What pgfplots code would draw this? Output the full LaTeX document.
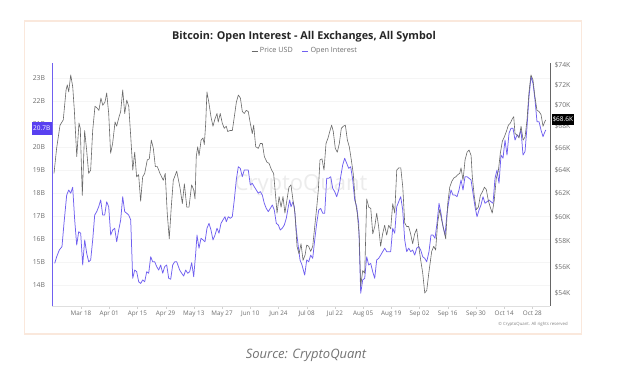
\documentclass[border=0pt]{standalone}
\usepackage{fontspec}
\setmainfont{Open Sans}
\usepackage{pgfplots}
\usepackage{pgfplotstable}
\pgfplotsset{compat=1.18}
\definecolor{oicol}{RGB}{112,96,240}
\definecolor{pricecol}{RGB}{105,105,105}
\definecolor{boxblue}{RGB}{88,64,240}
\definecolor{cardline}{RGB}{250,232,220}
\definecolor{ticktxt}{RGB}{110,110,110}

\pgfplotstableread{
d p
-13.4 63.7
-12.1 65.95
-10.4 68.1
-8.8 68.6
-7.4 71.5
-6.8 72.0
-6.1 71.3
-5.1 73.0
-4.1 71.8
-3.3 69.5
-2.1 65.2
-1.0 68.3
-0.35 67.8
0.65 61.8
1.8 67.6
2.8 65.8
3.8 63.7
4.8 64.0
5.8 67.6
6.95 69.9
8.1 69.7
8.9 69.5
9.9 70.7
10.8 70.0
11.9 70.3
12.75 71.2
13.75 69.2
14.7 65.5
15.7 66.4
16.9 68.4
17.7 68.0
18.9 68.9
19.7 69.4
20.7 71.5
21.7 69.2
22.7 70.5
23.7 69.9
24.7 67.0
25.7 64.0
26.65 65.6
27.6 63.4
28.6 63.6
29.6 61.3
30.6 63.4
31.6 63.7
32.9 64.9
33.9 65.0
34.9 66.7
35.9 65.95
36.9 64.3
37.9 64.3
39.2 63.7
40.85 63.1
41.8 63.7
42.8 60.3
43.8 58.2
44.8 60.8
45.8 63.1
47.5 63.9
49.1 62.5
50.3 61.1
51.3 62.8
52.5 60.8
53.6 60.8
54.9 62.7
55.9 62.3
56.6 61.5
57.2 65.2
57.9 66.1
58.6 65.3
59.6 66.7
60.55 66.9
61.2 66.3
61.9 68.3
62.5 71.3
63.5 70.2
64.5 68.9
65.5 68.0
66.5 68.7
67.5 69.2
68.1 68.4
69.1 69.2
70.1 68.3
71.1 67.8
72.1 68.0
72.8 67.5
74.0 67.6
75.1 67.6
76.1 68.9
77.1 70.3
78.1 71.0
79.1 70.7
80.05 69.4
81.0 69.2
82.0 69.5
83.0 69.4
84.0 68.3
85.0 67.3
85.7 68.1
86.7 66.1
88.0 65.95
89.0 66.4
90.0 66.4
91.0 65.2
92.3 64.7
93.3 64.6
94.6 64.0
95.6 63.7
96.6 61.7
97.3 60.3
98.3 61.7
99.3 60.8
100.25 61.7
101.2 60.3
102.2 61.4
103.2 62.5
104.2 62.7
105.2 61.4
106.2 60.3
107.2 57.6
108.2 57.0
109.2 57.8
110.2 56.5
111.2 56.9
112.0 57.7
113.0 57.6
114.0 57.2
115.0 57.6
116.0 59.2
117.0 60.8
117.8 62.3
118.6 64.9
119.6 65.0
120.6 64.0
121.6 66.4
122.6 66.9
123.6 67.6
124.4 68.1
125.2 67.5
126.2 65.95
127.2 65.6
128.2 66.4
129.2 67.8
130.2 68.0
131.2 68.1
132.2 66.7
133.15 66.1
134.15 64.9
135.1 63.7
136.1 61.4
137.1 60.3
138.1 58.4
138.8 54.5
139.8 55.7
140.8 55.5
141.8 61.5
142.8 60.8
143.8 60.7
144.8 58.6
145.8 59.2
146.75 60.3
147.7 59.2
148.7 57.6
149.7 58.6
150.7 59.3
151.7 58.5
152.7 59.3
153.7 59.0
154.7 61.1
155.7 60.3
156.7 64.0
157.7 64.2
158.7 64.2
159.7 62.5
160.65 59.5
161.6 59.2
162.6 59.2
163.6 58.6
164.6 57.8
165.6 58.6
166.6 59.0
167.6 57.6
168.6 56.5
169.6 55.5
170.6 54.0
171.6 54.2
172.6 55.5
174.05 57.2
175.05 57.6
176.0 57.3
177.0 59.5
178.0 60.6
179.0 59.7
180.0 59.0
181.0 58.2
182.0 61.1
183.0 62.5
184.0 63.0
185.0 63.3
186.0 63.4
187.0 63.6
187.95 63.7
188.6 64.2
189.6 63.1
190.6 64.9
191.6 65.6
192.6 65.8
193.6 65.3
194.2 63.4
195.2 61.7
196.2 60.6
197.2 60.8
198.2 61.8
199.2 62.1
200.2 62.5
201.15 62.3
202.1 61.4
203.1 60.8
204.1 60.3
205.1 61.4
206.1 63.3
207.1 63.9
208.1 65.5
209.1 66.6
210.1 67.0
211.1 67.5
212.1 68.1
213.1 68.3
214.05 68.7
214.75 68.9
215.4 67.3
216.4 67.2
217.4 66.9
218.4 68.0
219.4 66.7
220.4 67.0
221.35 68.6
222.3 71.2
223.3 73.0
224.3 72.5
225.3 70.8
226.3 69.5
227.3 69.4
228.3 69.1
229.3 68.0
229.9 68.3
230.6 68.6
}\pricetable

\pgfplotstableread{
d oi
-13.05 14.94
-12.06 15.23
-10.77 15.52
-9.43 15.67
-8.44 16.68
-7.1 17.91
-6.1 18.13
-5.11 17.99
-4.12 18.25
-3.13 16.83
-2.13 15.74
-1.14 16.32
-0.15 16.25
0.84 14.87
1.84 15.96
2.83 15.38
3.82 15.01
4.81 15.09
5.81 15.96
6.8 17.04
7.79 17.19
8.78 17.40
9.78 17.70
10.77 17.04
11.76 17.04
12.75 17.62
13.75 17.40
14.74 16.17
15.73 16.39
16.72 16.47
17.72 15.88
18.71 16.39
19.7 16.83
20.7 17.84
21.69 17.19
22.68 17.12
23.67 17.04
24.67 16.83
25.66 14.29
26.65 14.65
27.64 14.58
28.64 14.14
29.63 14.07
30.62 14.22
31.61 14.14
32.61 14.58
33.6 14.51
34.59 15.23
35.58 15.01
36.58 15.01
37.57 14.80
38.56 14.65
39.55 14.87
40.55 14.51
41.54 14.80
42.53 14.87
43.53 14.29
44.52 14.25
45.51 14.87
46.5 15.01
47.5 15.01
48.98 14.65
49.98 14.51
50.97 14.39
51.96 14.65
52.96 14.51
53.95 14.58
54.94 14.97
55.93 14.36
56.93 15.38
57.57 16.17
58.56 15.60
59.56 16.03
60.55 15.96
61.54 15.88
62.53 16.47
63.53 16.68
64.52 16.39
65.51 15.96
66.5 16.17
67.5 16.47
68.49 16.25
69.48 16.68
70.47 16.83
71.47 16.97
72.11 16.75
73.1 16.97
74.1 16.90
75.09 16.97
76.08 17.70
77.07 18.57
78.07 19.14
79.06 19.07
80.05 18.71
81.04 19.0
82.04 19.0
83.03 19.0
84.02 18.35
85.01 18.42
86.01 18.27
87.0 18.13
87.99 17.99
88.98 18.06
89.98 17.91
90.97 17.55
91.96 17.33
92.96 17.19
93.95 17.33
94.94 17.48
95.93 17.26
96.93 16.68
97.92 16.61
98.91 16.39
99.9 16.47
100.9 16.61
101.89 16.90
102.88 17.40
103.58 17.70
104.22 17.40
105.22 17.62
105.86 17.40
106.85 16.39
107.85 15.67
108.69 15.09
109.68 14.87
111.02 14.43
112.02 15.09
113.01 15.01
114.0 15.30
115.0 15.16
115.99 15.96
116.98 16.68
117.97 17.26
118.96 17.33
119.96 17.12
120.95 17.12
121.94 18.64
122.93 18.64
123.93 18.71
124.92 18.20
125.91 18.06
126.9 17.84
127.9 18.13
128.89 18.71
129.88 19.22
130.87 19.51
131.87 19.29
132.86 19.07
133.85 19.14
134.85 18.57
135.84 17.70
136.83 17.40
137.82 16.68
138.81 13.64
139.8 14.22
140.8 14.29
141.79 15.23
142.78 14.87
143.77 14.94
144.77 14.58
145.76 14.29
146.75 15.09
147.74 15.16
148.74 15.30
149.73 15.45
150.72 15.60
151.72 15.45
152.71 15.45
153.7 15.45
154.69 16.47
155.69 16.25
156.68 17.40
157.67 17.62
158.67 17.84
159.66 17.26
160.65 15.96
161.64 15.45
162.64 15.60
163.63 15.45
164.62 15.52
165.62 15.30
166.61 15.60
167.6 15.67
168.59 15.52
169.59 15.23
170.58 15.16
171.57 15.01
172.71 15.45
173.7 16.17
174.7 16.17
175.69 16.03
176.68 16.68
177.68 17.55
178.67 17.12
179.66 16.53
180.65 16.17
181.65 17.12
182.64 17.70
183.63 18.13
184.62 17.91
185.62 17.91
186.61 17.84
187.6 18.13
188.6 18.57
189.59 18.13
190.58 18.71
191.57 18.71
192.56 18.64
193.56 18.57
194.55 17.99
195.54 17.40
196.54 16.97
197.53 17.26
198.52 17.48
199.51 17.84
200.51 17.55
201.5 17.62
202.49 17.70
203.48 17.62
204.48 17.55
205.47 18.64
206.46 19.0
207.45 18.42
208.45 19.65
209.44 19.51
210.43 20.30
211.42 19.65
212.42 20.60
213.41 20.81
214.4 20.81
215.4 20.30
216.39 20.52
217.38 20.45
218.37 20.74
219.36 19.65
220.36 19.80
221.35 20.88
222.34 22.19
223.34 23.06
224.33 22.77
225.32 22.04
226.31 21.10
227.31 21.10
228.3 20.74
229.29 20.45
229.94 20.60
230.63 20.74
}\oitable

\begin{document}
\begin{tikzpicture}[x=1pt,y=1pt]
% canvas
\path[fill=white] (0,0) rectangle (621,375);
% card
\draw[cardline, line width=1.2pt] (24.3,41) rectangle (581.7,354);
% watermark
\node[text=gray!15, font=\fontsize{22}{22}\selectfont] at (301,190) {CryptoQuant};
% title
\node[font=\fontsize{10.8}{13}\selectfont\bfseries, text=black!85] at (304,338) {Bitcoin: Open Interest - All Exchanges, All Symbol};

\begin{axis}[
  at={(52pt,69pt)}, anchor=south west,
  width=498pt, height=243pt, scale only axis,
  xmin=-14.39, xmax=232.76,
  ymin=13.087, ymax=23.652,
  axis x line*=bottom, axis y line*=left,
  axis line style={-},
  x axis line style={draw=gray!25},
  y axis line style={draw=oicol, line width=0.8pt},
  xtick={0,14,...,224},
  xticklabels={Mar 18,Apr 01,Apr 15,Apr 29,May 13,May 27,Jun 10,Jun 24,Jul 08,Jul 22,Aug 05,Aug 19,Sep 02,Sep 16,Sep 30,Oct 14,Oct 28},
  ytick={14,15,...,23},
  yticklabels={14B,15B,16B,17B,18B,19B,20B,21B,22B,23B},
  tick align=outside,
  major tick length=2.5pt,
  xtick style={draw=gray!35},
  ytick style={draw=none},
  ymajorgrids, grid style={draw=gray!8, line width=0.5pt},
  xticklabel style={font=\fontsize{6.3}{7}\selectfont, text=ticktxt, yshift=1pt},
  yticklabel style={font=\fontsize{6.8}{8}\selectfont, text=ticktxt, xshift=-1pt},
]
\addplot[oicol, line width=0.75pt, line join=round] table[x=d, y=oi] {\oitable};
\end{axis}

\begin{axis}[
  at={(52pt,69pt)}, anchor=south west,
  width=498pt, height=243pt, scale only axis,
  xmin=-14.39, xmax=232.76,
  ymode=log, ymin=53.04, ymax=74.21,
  axis x line=none, axis y line*=right,
  axis line style={-},
  y axis line style={draw=black!60, line width=0.8pt},
  ytick={54,56,58,60,62,64,66,68,70,72,74},
  yticklabels={\$54K,\$56K,\$58K,\$60K,\$62K,\$64K,\$66K,\$68K,\$70K,\$72K,\$74K},
  ytick style={draw=none},
  yticklabel style={font=\fontsize{6.8}{8}\selectfont, text=ticktxt, xshift=1pt},
  legend columns=2,
  legend style={at={(0.508,1)}, anchor=center, yshift=12pt, draw=none, fill=none,
    font=\fontsize{7.2}{8}\selectfont, text=ticktxt,
    /tikz/every even column/.append style={column sep=7pt}},
  legend image code/.code={\draw[#1, line width=0.8pt] (0pt,0pt) -- (6pt,0pt);},
]
\addplot[pricecol, line width=0.6pt, line join=round] table[x=d, y=p] {\pricetable};
\addlegendentry{Price USD}
\addlegendimage{oicol}
\addlegendentry{Open Interest}
\end{axis}

% value boxes
\node[fill=boxblue, text=white, font=\fontsize{6.5}{7}\selectfont, minimum width=20pt, minimum height=13pt, inner sep=0pt] at (41.7,246.6) {20.7B};
\node[fill=black, text=white, font=\fontsize{6.5}{7}\selectfont, minimum width=22pt, minimum height=11pt, inner sep=0pt] at (562.8,255.3) {\$68.6K};
% copyright
\node[text=gray, font=\fontsize{4.3}{5}\selectfont] at (533,51) {\textcopyright\ CryptoQuant. All rights reserved};
% source
\node[text=gray!90!black, font=\fontsize{13}{15}\selectfont\itshape] at (306,20) {Source: CryptoQuant};
\end{tikzpicture}
\end{document}
